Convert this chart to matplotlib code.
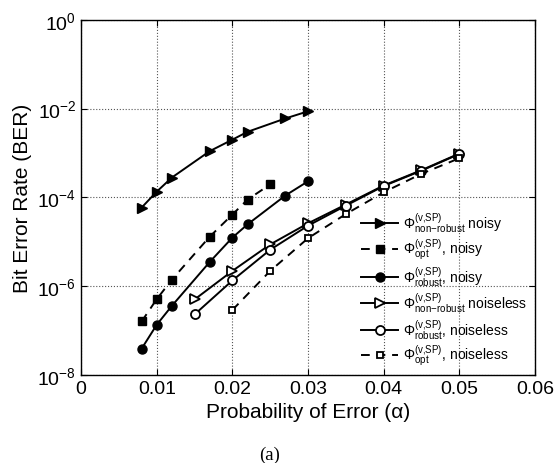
import matplotlib
matplotlib.use('Agg')
import matplotlib.pyplot as plt
import numpy as np

# --- data ---
alpha_noisy = [0.008, 0.01, 0.012, 0.017, 0.02, 0.022, 0.027, 0.03]
alpha_opt_noisy = [0.008, 0.01, 0.012, 0.017, 0.02, 0.022, 0.025]
alpha_noiseless = [0.015, 0.02, 0.025, 0.03, 0.035, 0.04, 0.045, 0.05]
alpha_opt_noiseless = [0.02, 0.025, 0.03, 0.035, 0.04, 0.045, 0.05]

ber_nonrob_noisy = [5.9e-5, 1.35e-4, 2.8e-4, 1.1e-3, 2.0e-3, 3.0e-3, 6.0e-3, 8.7e-3]
ber_opt_noisy = [1.6e-7, 5.1e-7, 1.4e-6, 1.3e-5, 4.1e-5, 8.9e-5, 1.96e-4]
ber_rob_noisy = [3.9e-8, 1.35e-7, 3.6e-7, 3.5e-6, 1.24e-5, 2.46e-5, 1.1e-4, 2.3e-4]
ber_nonrob_noiseless = [5.0e-7, 2.2e-6, 8.7e-6, 2.6e-5, 6.9e-5, 1.85e-4, 4.1e-4, 9.7e-4]
ber_rob_noiseless = [2.3e-7, 1.34e-6, 6.6e-6, 2.3e-5, 6.5e-5, 1.8e-4, 4.0e-4, 9.5e-4]
ber_opt_noiseless = [2.9e-7, 2.2e-6, 1.2e-5, 4.2e-5, 1.3e-4, 3.4e-4, 7.6e-4]

xticks = [0, 0.01, 0.02, 0.03, 0.04, 0.05, 0.06]
xticklabels = ['0', '0.01', '0.02', '0.03', '0.04', '0.05', '0.06']
yticks = [1e-8, 1e-6, 1e-4, 1e-2, 1e0]
yticklabels = ['$10^{-8}$', '$10^{-6}$', '$10^{-4}$', '$10^{-2}$', '$10^{0}$']

labels = [
    r'$\Phi^{(v{,}SP)}_{non\!-\!robust}$ noisy',
    r'$\Phi^{(v{,}SP)}_{opt}$, noisy',
    r'$\Phi^{(v{,}SP)}_{robust}$, noisy',
    r'$\Phi^{(v{,}SP)}_{non\!-\!robust}$ noiseless',
    r'$\Phi^{(v{,}SP)}_{robust}$, noiseless',
    r'$\Phi^{(v{,}SP)}_{opt}$, noiseless',
]

plt.rcParams['font.family'] = ['Liberation Sans', 'DejaVu Sans']
plt.rcParams['mathtext.default'] = 'regular'

fig = plt.figure(figsize=(5.56, 4.64), dpi=100)
ax = fig.add_axes([0.146, 0.19, 0.816, 0.765])

lw = 1.4
ms = 6.5
dash = (0, (4.5, 3.5))
ax.plot(alpha_noisy, ber_nonrob_noisy, 'k-', marker='>', mfc='k', lw=lw, ms=ms, label=labels[0])
ax.plot(alpha_opt_noisy, ber_opt_noisy, color='k', ls=dash, marker='s', mfc='k', lw=lw, ms=ms - 1, label=labels[1])
ax.plot(alpha_noisy, ber_rob_noisy, 'k-', marker='o', mfc='k', lw=lw, ms=ms, label=labels[2])
ax.plot(alpha_noiseless, ber_nonrob_noiseless, 'k-', marker='>', mfc='w', mew=1.3, lw=lw, ms=ms, label=labels[3])
ax.plot(alpha_noiseless, ber_rob_noiseless, 'k-', marker='o', mfc='w', mew=1.3, lw=lw, ms=ms, label=labels[4])
ax.plot(alpha_opt_noiseless, ber_opt_noiseless, color='k', ls=dash, marker='s', mfc='w', mew=1.3, lw=lw, ms=ms - 1.5, label=labels[5])

ax.set_yscale('log')
ax.set_xlim(0, 0.06)
ax.set_ylim(1e-8, 1)
ax.set_xticks(xticks)
ax.set_xticklabels(xticklabels)
ax.set_yticks(yticks)
ax.set_yticklabels(yticklabels)
ax.minorticks_off()
ax.tick_params(direction='in', labelsize=14, length=4, top=True, right=True)
ax.grid(True, ls=':', color='#555555', lw=0.8)
for s in ax.spines.values():
    s.set_linewidth(1.0)

ax.set_xlabel('Probability of Error (α)', fontsize=15, labelpad=4)
ax.set_ylabel('Bit Error Rate (BER)', fontsize=15, labelpad=4)

ax.legend(loc='upper left', bbox_to_anchor=(0.649, 0.544), bbox_transform=fig.transFigure,
          frameon=False, fontsize=10, borderpad=0, handlelength=2.7, handletextpad=0.3,
          labelspacing=0.175, borderaxespad=0)

fig.text(0.484, 0.019, '(a)', family='Liberation Serif', fontsize=13.5, ha='center', va='center')

fig.savefig('out.png', dpi=100)
